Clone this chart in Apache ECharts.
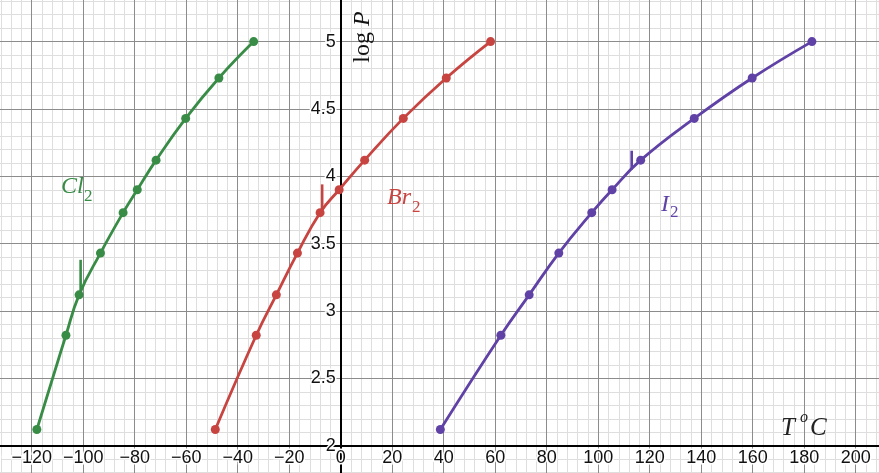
<!DOCTYPE html>
<html>
<head>
<meta charset="utf-8">
<script src="https://cdn.jsdelivr.net/npm/echarts@6/dist/echarts.min.js"></script>
<style>
html,body{margin:0;padding:0;background:#fff;}
#chart{width:879px;height:473px;}
</style>
</head>
<body>
<div id="chart"></div>
<script>
// ---- data ----
const logP = [2.12, 2.82, 3.12, 3.43, 3.73, 3.90, 4.12, 4.43, 4.73, 5.00];
const cl2T = [-118.0, -106.7, -101.6, -93.3, -84.5, -79.0, -71.7, -60.2, -47.3, -33.8];
const br2T = [-48.7, -32.8, -25.0, -16.8, -8.0, -0.6, 9.3, 24.3, 41.0, 58.2];
const i2T  = [38.7, 62.2, 73.2, 84.7, 97.5, 105.4, 116.5, 137.3, 159.8, 183.0];
// melting point markers: temperature, lower and upper logP of the short vertical mark
const meltT      = [-101, -7.2, 113];
const meltLow    = [3.15, 3.75, 4.05];
const meltHigh   = [3.38, 3.94, 4.19];
const xTicksMajor = 20, xTicksMinor = 4;
const yTicksMajor = 0.5, yTicksMinor = 0.1;

// ---- layout ----
const W = 879, H = 473;
const xMin = -140, xMax = 220, yMin = 1.5, yMax = 5.5;
const X0 = 340.7, SX = 2.575;   // pixel of x=0, px per unit
const Y2 = 445.7, SY = 134.7;   // pixel of y=2, px per unit
const gridLeft = X0 + xMin * SX;
const gridRight = W - (X0 + xMax * SX);
const gridTop = Y2 - (yMax - 2) * SY;
const gridBottom = H - (Y2 + (2 - yMin) * SY);
const xOffset = -(2 - yMin) * SY;
const yOffset = -(0 - xMin) * SX;

const GREEN = '#388c46', RED = '#c74440', PURPLE = '#6042a6';
const MAJOR = '#8c8c8c', MINOR = '#dedede';

function pairs(xs, ys) { return xs.map((x, i) => [x, ys[i]]); }

const chart = echarts.init(document.getElementById('chart'), null, {renderer: 'canvas'});

const labelFont = {fontFamily: 'Liberation Sans, Arial, sans-serif', fontSize: 18, color: '#111',
  textBorderColor: '#fff', textBorderWidth: 3};

function curve(name, xs, color) {
  return {
    type: 'line', name: name, data: pairs(xs, logP),
    xAxisIndex: 1, yAxisIndex: 1,
    smooth: 0.45,
    symbol: 'circle', symbolSize: 9, showSymbol: true,
    lineStyle: {color: color, width: 2.8},
    itemStyle: {color: color},
    z: 5, animation: false
  };
}
function meltMark(i, color) {
  return {
    type: 'line', data: [[meltT[i], meltLow[i]], [meltT[i], meltHigh[i]]],
    xAxisIndex: 1, yAxisIndex: 1, symbol: 'none',
    lineStyle: {color: color, width: 2.6}, z: 4, animation: false
  };
}

const serif = 'Liberation Serif, Times New Roman, serif';
function txt(s, x, y, size, color, italic, extra) {
  return Object.assign({
    type: 'text', x: x, y: y, z: 20,
    style: {text: s, fill: color, font: (italic ? 'italic ' : '') + size + 'px ' + serif,
      textAlign: 'left', textVerticalAlign: 'middle', verticalAlign: 'middle'}
  }, extra || {});
}

const option = {
  animation: false,
  backgroundColor: '#fff',
  grid: {left: gridLeft, right: gridRight, top: gridTop, bottom: gridBottom,
    containLabel: false, outerBoundsMode: 'none'},
  xAxis: [
    {type: 'value', min: xMin, max: xMax, interval: xTicksMinor,
      axisLine: {show: false}, axisTick: {show: false}, axisLabel: {show: false},
      splitLine: {show: true, lineStyle: {color: MINOR, width: 1}}},
    {type: 'value', min: xMin, max: xMax, interval: xTicksMajor, position: 'bottom', offset: xOffset,
      axisLine: {show: true, onZero: false, lineStyle: {color: '#000', width: 2}},
      axisTick: {show: false},
      axisLabel: Object.assign({margin: 3, formatter: v => String(v).replace('-', '\u2212')}, labelFont),
      splitLine: {show: true, lineStyle: {color: MAJOR, width: 1}}, z: 3}
  ],
  yAxis: [
    {type: 'value', min: yMin, max: yMax, interval: yTicksMinor,
      axisLine: {show: false}, axisTick: {show: false}, axisLabel: {show: false},
      splitLine: {show: true, lineStyle: {color: MINOR, width: 1}}},
    {type: 'value', min: yMin, max: yMax, interval: yTicksMajor, position: 'left', offset: yOffset,
      axisLine: {show: true, onZero: false, lineStyle: {color: '#000', width: 2}},
      axisTick: {show: false},
      axisLabel: Object.assign({margin: 5}, labelFont),
      splitLine: {show: true, lineStyle: {color: MAJOR, width: 1}}, z: 3}
  ],
  series: [
    curve('Cl2', cl2T, GREEN),
    curve('Br2', br2T, RED),
    curve('I2', i2T, PURPLE),
    meltMark(0, GREEN), meltMark(1, RED), meltMark(2, PURPLE)
  ],
  graphic: [
    txt('Cl', 61, 187, 24, GREEN, true),
    txt('2', 84, 197, 17, GREEN, false),
    txt('Br', 387, 198, 24, RED, true),
    txt('2', 412, 208, 17, RED, false),
    txt('I', 661, 205, 24, PURPLE, true),
    txt('2', 670, 213, 17, PURPLE, false),
    txt('T', 781, 428, 25, '#222', true),
    txt('o', 800, 418, 16, '#222', true),
    txt('C', 810, 428, 25, '#222', true),
    {type: 'text', x: 363, y: 37, rotation: Math.PI / 2, z: 20,
      style: {text: '{a|log }{b|P}', textAlign: 'center', textVerticalAlign: 'middle', verticalAlign: 'middle', align: 'center',
        rich: {a: {fontFamily: serif, fontSize: 24, fill: '#111', color: '#111'},
               b: {fontFamily: serif, fontSize: 24, fontStyle: 'italic', fill: '#111', color: '#111'}}}}
  ]
};
chart.setOption(option);
</script>
</body>
</html>
